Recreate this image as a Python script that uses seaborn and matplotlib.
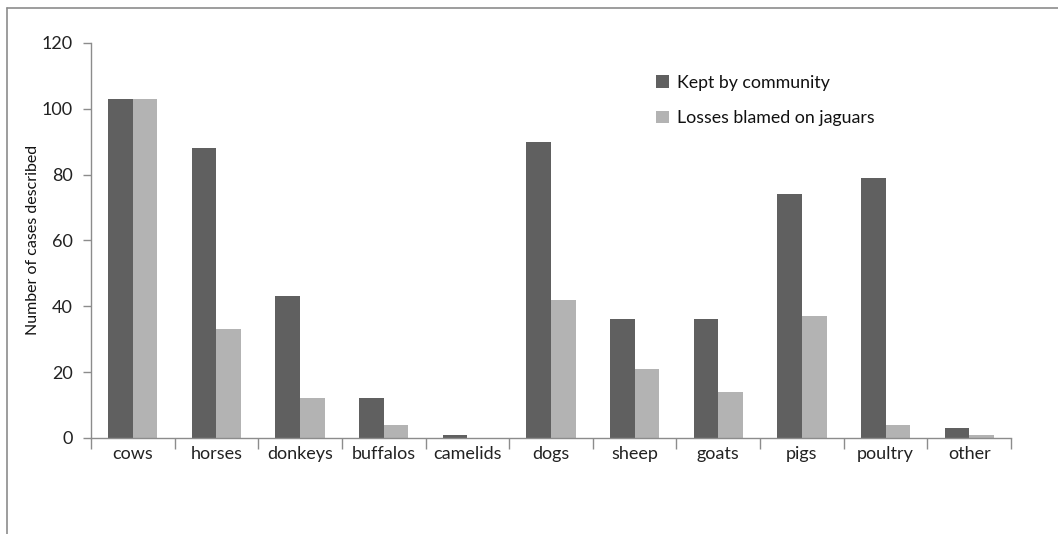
import pandas as pd
import seaborn as sns
import matplotlib.pyplot as plt
from matplotlib.lines import Line2D
from matplotlib.ticker import FixedLocator

# Data
animals = ["cows", "horses", "donkeys", "buffalos", "camelids", "dogs",
           "sheep", "goats", "pigs", "poultry", "other"]
kept = [103, 88, 43, 12, 1, 90, 36, 36, 74, 79, 3]
losses = [103, 33, 12, 4, 0, 42, 21, 14, 37, 4, 1]
series_names = ["Kept by community", "Losses blamed on jaguars"]
colors = ["#606060", "#b3b3b3"]

df = pd.DataFrame({
    "animal": animals * 2,
    "count": kept + losses,
    "series": [series_names[0]] * len(animals) + [series_names[1]] * len(animals),
})

sns.set_style("white")
plt.rcParams['font.family'] = ['Lato', 'DejaVu Sans']

fig = plt.figure(figsize=(10.58, 5.34), dpi=100)
ax = fig.add_axes([0.086, 0.18, 0.8696, 0.7395])

sns.barplot(data=df, x="animal", y="count", hue="series", order=animals,
            hue_order=series_names, palette=colors, saturation=1,
            width=0.59, gap=0, ax=ax, legend=True, linewidth=0)

ax.set_ylim(0, 120)
ax.set_yticks(range(0, 121, 20))
ax.set_xlim(-0.5, len(animals) - 0.5)

# Spines and ticks
for s in ["top", "right"]:
    ax.spines[s].set_visible(False)
for s in ["left", "bottom"]:
    ax.spines[s].set_color("#8c8c8c")
    ax.spines[s].set_linewidth(1)

ax.tick_params(axis="y", which="major", direction="out", length=6, width=1,
               color="#8c8c8c", labelsize=13, pad=7, left=True, labelcolor="#222222")
ax.tick_params(axis="x", which="major", length=0, labelsize=13, pad=6, labelcolor="#222222")
ax.xaxis.set_minor_locator(FixedLocator([i - 0.5 for i in range(len(animals) + 1)]))
ax.tick_params(axis="x", which="minor", direction="out", length=8, width=1,
               color="#8c8c8c", bottom=True)

ax.set_xlabel("")
ax.set_ylabel("Number of cases described", fontsize=11.5, labelpad=1, color="#111111")

leg = ax.legend(loc="upper left", bbox_to_anchor=(0.597, 0.96), frameon=False,
                fontsize=12.8, handlelength=0.7, handleheight=0.7,
                handletextpad=0.45, labelspacing=1.1)
for t in leg.get_texts():
    t.set_color("#111111")

# Outer chart border (top and left visible)
fig.add_artist(Line2D([0.0066, 0.0066], [0, 0.985], color="#8c8c8c", lw=1.2,
                      transform=fig.transFigure))
fig.add_artist(Line2D([0.0066, 1], [0.985, 0.985], color="#8c8c8c", lw=1.2,
                      transform=fig.transFigure))

fig.savefig("out.png", dpi=100)
